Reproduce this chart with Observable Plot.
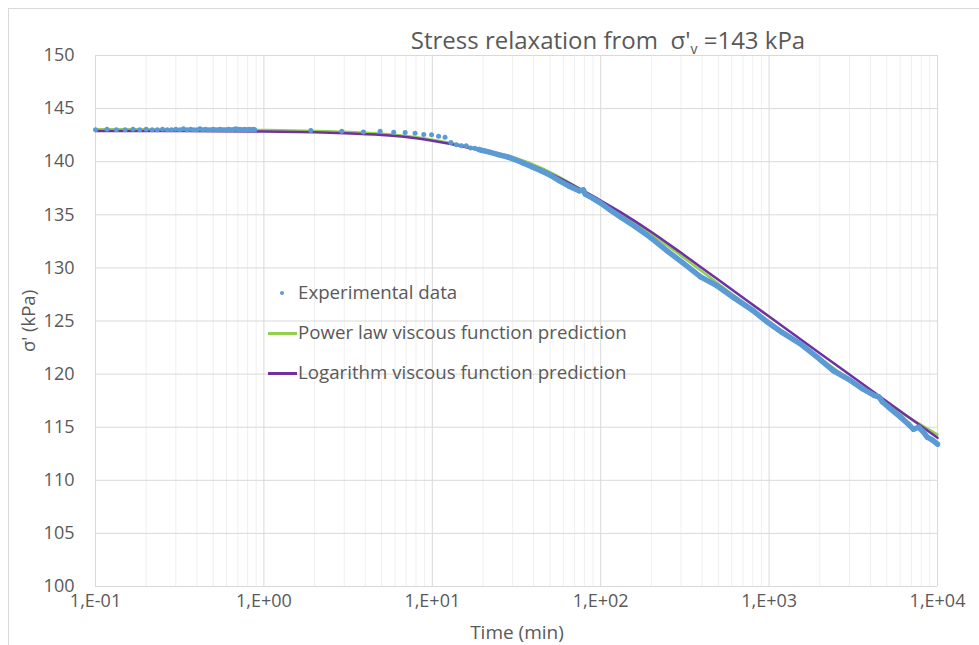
<!DOCTYPE html>
<html><head><meta charset="utf-8">
<script src="https://cdn.jsdelivr.net/npm/d3@7"></script>
<script src="https://cdn.jsdelivr.net/npm/@observablehq/plot@0.6"></script>
<style>
html,body{margin:0;padding:0;background:#fff;overflow:hidden;}
#wrap{position:relative;width:979px;height:645px;font-family:"Open Sans",sans-serif;color:#595959;overflow:hidden;}
#border{position:absolute;left:8px;top:8px;width:1000px;height:700px;border:1px solid #d9d9d9;box-sizing:border-box;}
#chart{position:absolute;left:0;top:0;}
#chart svg text{font-size:18px;}
.t{position:absolute;white-space:nowrap;line-height:1;}
#title{left:608px;top:28px;transform:translateX(-50%);font-size:24px;}
#title sub{font-size:14px;vertical-align:-5px;line-height:0;}
#xlab{left:517px;top:623px;transform:translateX(-50%);font-size:19px;}
#ylab{left:28px;top:321px;transform:translate(-50%,-50%) rotate(-90deg);font-size:18.5px;}
.leg{position:absolute;left:298px;font-size:18.7px;line-height:24px;white-space:nowrap;}
.sw{position:absolute;left:268px;width:29px;height:2.5px;}
.dt{position:absolute;left:280px;width:4px;height:4px;border-radius:50%;background:#5B9BD5;}
</style></head>
<body>
<div id="wrap">
  <div id="border"></div>
  <div id="chart"></div>
  <div class="t" id="title">Stress relaxation from&nbsp; σ'<sub>v</sub> =143 kPa</div>
  <div class="t" id="xlab">Time (min)</div>
  <div class="t" id="ylab">σ' (kPa)</div>
  <div class="dt" style="top:291px"></div>
  <div class="leg" style="top:280px">Experimental data</div>
  <div class="sw" style="top:332px;background:#92D050"></div>
  <div class="leg" style="top:320px">Power law viscous function prediction</div>
  <div class="sw" style="top:372px;background:#7030A0"></div>
  <div class="leg" style="top:360px">Logarithm viscous function prediction</div>
</div>
<script>
// Axis ticks
const xTicks = [0.1, 1, 10, 100, 1000, 10000];
const minorMultipliers = [2, 3, 4, 5, 6, 7, 8, 9];
const yTicks = [100, 105, 110, 115, 120, 125, 130, 135, 140, 145, 150];

// Experimental data (time in min, effective stress in kPa)
const expTime = [
  0.1,0.117,0.133,0.15,0.167,0.183,0.2,0.217,0.233,0.25,0.267,0.283,0.3,0.317,0.333,0.35,
  0.367,0.383,0.4,0.417,0.433,0.45,0.467,0.483,0.5,0.517,0.533,0.55,0.567,0.583,0.6,0.617,
  0.633,0.65,0.667,0.683,0.7,0.717,0.733,0.75,0.767,0.783,0.8,0.817,0.833,0.85,0.867,0.883,
  1.9,2.9,3.9,4.9,5.9,6.9,7.9,8.9,9.9,10.9,11.9,12.9,13.9,14.9,15.9,16.9,17.9,18.9,
  19.9,21.9,24.9,27.9,30.9,34.9,39.9,44.9,49.9,56.9,64.9,74.9,78.9,80.9,89.9,99.9,
  115,131,160,198,248,309,392,492,617,800,975,1200,1535,1930,2415,3040,3600,4200,4385,
  4500,4700,5200,6030,6700,7200,7720,8200,8690,9300,10000
];
const expStress = [
  143.0,143.05,143.0,143.0,143.05,143.0,143.05,143.0,143.0,143.05,143.0,143.0,143.05,143.0,143.1,143.0,
  143.05,143.0,143.0,143.1,143.0,143.05,143.0,143.0,143.05,143.0,143.0,143.05,143.0,143.0,143.0,143.05,
  143.0,143.0,143.05,143.1,143.0,143.05,143.0,143.0,143.05,143.0,143.0,143.05,143.0,143.0,143.05,143.0,
  142.94,142.87,142.8,142.87,142.78,142.75,142.68,142.56,142.53,142.4,142.3,141.8,141.6,141.5,141.5,141.3,141.27,141.15,
  141.05,140.9,140.65,140.45,140.2,139.85,139.45,139.1,138.75,138.2,137.7,137.25,137.35,136.95,136.55,136.1,
  135.4,134.8,133.9,132.85,131.6,130.45,129.15,128.3,127.2,126.0,124.9,123.9,122.85,121.6,120.3,119.4,118.6,118.0,117.9,
  117.85,117.4,116.8,115.95,115.3,114.8,115.0,114.6,114.06,113.8,113.4
];

// Model predictions
const modelTime = [0.1,0.3,1,2,3,5,7,10,15,20,30,44,57,79,100,131,200,300,500,1000,2000,3000,5000,10000];
const powerLaw = [143.05,143.04,142.98,142.9,142.82,142.63,142.42,142.07,141.55,141.1,140.45,139.45,138.55,137.25,136.28,135.12,133.2,131.15,128.5,124.95,121.5,119.5,117.2,114.3];
const logarithm = [142.9,142.89,142.85,142.77,142.69,142.52,142.32,141.97,141.45,141.0,140.3,139.3,138.45,137.25,136.35,135.25,133.38,131.42,128.88,125.42,121.97,119.96,117.43,114.0];

const expData = expTime.map((t, i) => ({t, s: expStress[i]}));
const plData = modelTime.map((t, i) => ({t, s: powerLaw[i]}));
const lgData = modelTime.map((t, i) => ({t, s: logarithm[i]}));
const minorTicks = xTicks.slice(0, -1).flatMap(d => minorMultipliers.map(k => d * k));

const fmt = d => {
  const e = Math.round(Math.log10(d));
  return "1,E" + (e < 0 ? "-" : "+") + String(Math.abs(e)).padStart(2, "0");
};

const plot = Plot.plot({
  width: 979, height: 645,
  marginLeft: 95, marginRight: 42, marginTop: 55, marginBottom: 59,
  style: {fontFamily: "Open Sans", fontSize: "18px", color: "#595959", background: "transparent", overflow: "visible"},
  x: {type: "log", domain: [0.1, 10000], ticks: xTicks, tickFormat: fmt, tickSize: 0, tickPadding: 8, label: null},
  y: {domain: [100, 150], ticks: yTicks, tickSize: 0, tickPadding: 21, label: null},
  marks: [
    Plot.ruleX(minorTicks, {stroke: "#efefef", strokeWidth: 1}),
    Plot.ruleX(xTicks, {stroke: "#d9d9d9", strokeWidth: 1}),
    Plot.ruleY(yTicks, {stroke: "#d9d9d9", strokeWidth: 1}),
    Plot.line(plData, {x: "t", y: "s", stroke: "#92D050", strokeWidth: 2.5, curve: "monotone-x"}),
    Plot.line(lgData, {x: "t", y: "s", stroke: "#7030A0", strokeWidth: 2.5, curve: "monotone-x"}),
    Plot.line(expData.filter(d => d.t >= 18.9), {x: "t", y: "s", stroke: "#5B9BD5", strokeWidth: 5.5, strokeLinejoin: "round", strokeLinecap: "round"}),
    Plot.dot(expData, {x: "t", y: "s", r: 2.5, fill: "#5B9BD5", stroke: "none"})
  ]
});
document.getElementById("chart").appendChild(plot);
</script>
</body></html>
